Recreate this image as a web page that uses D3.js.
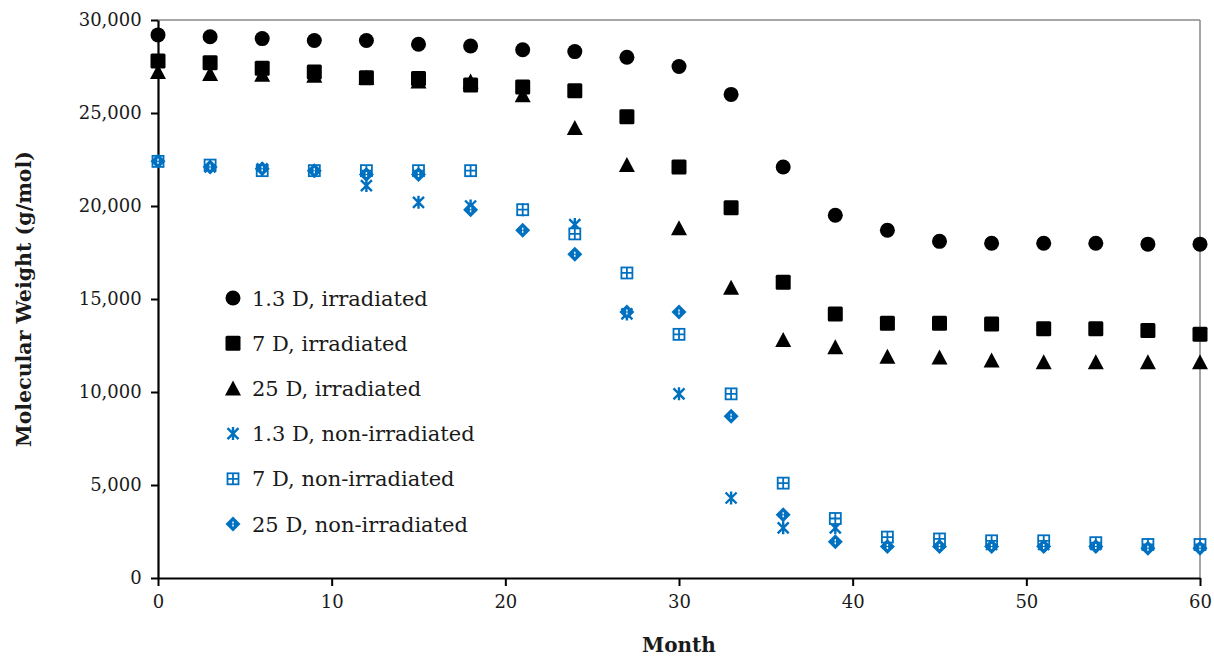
<!DOCTYPE html>
<html>
<head>
<meta charset="utf-8">
<script src="https://cdn.jsdelivr.net/npm/d3@7"></script>
<style>
  body { margin: 0; background: #fff; }
  text { font-family: "DejaVu Serif", "Liberation Serif", serif; fill: #1a1a1a; }
</style>
</head>
<body>
<div id="chart"></div>
<script>
// months sampled every 3 months
var months = [0, 3, 6, 9, 12, 15, 18, 21, 24, 27, 30, 33, 36, 39, 42, 45, 48, 51, 54, 57, 60];

var irr13 = [29200, 29100, 29000, 28900, 28900, 28700, 28600, 28400, 28300, 28000, 27500, 26000, 22100, 19500, 18700, 18100, 18000, 18000, 18000, 17950, 17950];
var irr7 = [27800, 27700, 27400, 27200, 26900, 26850, 26500, 26400, 26200, 24800, 22100, 19900, 15900, 14200, 13700, 13700, 13650, 13400, 13400, 13300, 13100];
var irr25 = [27200, 27100, 27050, 27000, 26900, 26700, 26700, 25950, 24200, 22200, 18800, 15600, 12800, 12400, 11900, 11850, 11700, 11600, 11600, 11600, 11600];
var non13 = [22400, 22100, 22000, 21900, 21100, 20200, 20000, 19800, 19000, 14200, 9900, 4300, 2700, 2700, 1900, 1900, 1800, 1800, 1800, 1800, 1800];
var non7 = [22400, 22200, 21900, 21900, 21900, 21900, 21900, 19800, 18500, 16400, 13100, 9900, 5100, 3200, 2200, 2100, 2000, 2000, 1900, 1800, 1800];
var non25 = [22400, 22100, 22000, 21900, 21700, 21700, 19800, 18700, 17400, 14300, 14300, 8700, 3400, 1950, 1700, 1700, 1700, 1700, 1700, 1600, 1600];

var seriesNames = ["1.3 D, irradiated", "7 D, irradiated", "25 D, irradiated",
                   "1.3 D, non-irradiated", "7 D, non-irradiated", "25 D, non-irradiated"];
var seriesValues = [irr13, irr7, irr25, non13, non7, non25];
var seriesMarkers = ["circle", "square", "triangle", "star", "boxplus", "diamond"];

var xTicks = [0, 10, 20, 30, 40, 50, 60];
var yTicks = [0, 5000, 10000, 15000, 20000, 25000, 30000];

var black = "#000";
var blue = "#0070c0";

var width = 1214, height = 657;
var margin = {top: 20, right: 14, bottom: 79, left: 158};

var svg = d3.select("#chart").append("svg")
    .attr("width", width)
    .attr("height", height);

var x = d3.scaleLinear().domain([0, 60]).range([margin.left, width - margin.right]);
var y = d3.scaleLinear().domain([0, 30000]).range([height - margin.bottom, margin.top]);

// plot frame (top and right in grey)
svg.append("line")
    .attr("x1", x(0)).attr("x2", x(60))
    .attr("y1", y(30000)).attr("y2", y(30000))
    .attr("stroke", "#888").attr("stroke-width", 1.5);
svg.append("line")
    .attr("x1", x(60)).attr("x2", x(60))
    .attr("y1", y(30000)).attr("y2", y(0))
    .attr("stroke", "#888").attr("stroke-width", 1.5);

// axes
var xAxis = d3.axisBottom(x).tickValues(xTicks).tickSize(8).tickSizeOuter(0);
var yAxis = d3.axisLeft(y).tickValues(yTicks).tickSize(7).tickSizeOuter(0)
    .tickFormat(d3.format(","));

var gx = svg.append("g")
    .attr("transform", "translate(0," + y(0) + ")")
    .call(xAxis);
var gy = svg.append("g")
    .attr("transform", "translate(" + x(0) + ",0)")
    .call(yAxis);

[gx, gy].forEach(function(g){
    g.select(".domain").attr("stroke", black).attr("stroke-width", 2.2);
    g.selectAll(".tick line").attr("stroke", black).attr("stroke-width", 2);
    g.selectAll(".tick text")
        .attr("font-size", 18)
        .attr("font-family", "DejaVu Serif, serif")
        .attr("fill", "#1a1a1a");
});
gx.selectAll(".tick text").attr("dy", "1.05em");
gy.selectAll(".tick text").attr("dx", "-0.35em");

// axis titles
svg.append("text")
    .attr("x", (x(0) + x(60)) / 2)
    .attr("y", 652)
    .attr("text-anchor", "middle")
    .attr("font-size", 20)
    .attr("font-weight", "bold")
    .text("Month");

svg.append("text")
    .attr("transform", "translate(31," + (y(15000)) + ") rotate(-90)")
    .attr("text-anchor", "middle")
    .attr("font-size", 20.5)
    .attr("font-weight", "bold")
    .text("Molecular Weight (g/mol)");

/**
 * Draws one marker of the given kind centred on (cx, cy).
 */
function drawMarker(g, kind, cx, cy){
    if (kind == "circle"){
        g.append("circle").attr("cx", cx).attr("cy", cy).attr("r", 7.5).attr("fill", black);
    }
    else if (kind == "square"){
        g.append("rect").attr("x", cx - 7.5).attr("y", cy - 7.5)
            .attr("width", 15).attr("height", 15).attr("rx", 1.5).attr("fill", black);
    }
    else if (kind == "triangle"){
        g.append("path")
            .attr("d", "M" + cx + "," + (cy - 8) + "L" + (cx + 8) + "," + (cy + 7) + "L" + (cx - 8) + "," + (cy + 7) + "Z")
            .attr("fill", black);
    }
    else if (kind == "star"){
        var s = 5.5;
        g.append("path")
            .attr("d", "M" + (cx - s) + "," + (cy - s) + "L" + (cx + s) + "," + (cy + s) +
                       "M" + (cx + s) + "," + (cy - s) + "L" + (cx - s) + "," + (cy + s) +
                       "M" + cx + "," + (cy - s - 1) + "L" + cx + "," + (cy + s + 1))
            .attr("stroke", blue).attr("stroke-width", 2.4).attr("fill", "none");
    }
    else if (kind == "boxplus"){
        var h = 5.5;
        g.append("rect").attr("x", cx - h).attr("y", cy - h)
            .attr("width", 2 * h).attr("height", 2 * h)
            .attr("fill", "#fff").attr("stroke", blue).attr("stroke-width", 1.8);
        g.append("path")
            .attr("d", "M" + (cx - h) + "," + cy + "L" + (cx + h) + "," + cy +
                       "M" + cx + "," + (cy - h) + "L" + cx + "," + (cy + h))
            .attr("stroke", blue).attr("stroke-width", 1.8);
    }
    else if (kind == "diamond"){
        var d = 7.5;
        g.append("path")
            .attr("d", "M" + cx + "," + (cy - d) + "L" + (cx + d) + "," + cy + "L" + cx + "," + (cy + d) + "L" + (cx - d) + "," + cy + "Z")
            .attr("fill", blue);
        g.append("path")
            .attr("d", "M" + cx + "," + (cy - 2.5) + "L" + cx + "," + (cy + 2.5))
            .attr("stroke", "#fff").attr("stroke-width", 1.4).attr("stroke-dasharray", "2,1");
    }
}

// data markers
var marks = svg.append("g").attr("id", "marks");
seriesValues.forEach(function(vals, si){
    var g = marks.append("g").attr("class", "series-" + si);
    vals.forEach(function(v, i){
        drawMarker(g, seriesMarkers[si], x(months[i]), y(v));
    });
});

// legend
var legend = svg.append("g").attr("id", "legend");
var legendX = 233, legendY0 = 298, legendStep = 45.2;
seriesNames.forEach(function(name, i){
    var ly = legendY0 + i * legendStep;
    drawMarker(legend, seriesMarkers[i], legendX, ly);
    legend.append("text")
        .attr("x", legendX + 19)
        .attr("y", ly)
        .attr("dy", "0.36em")
        .attr("font-size", 21)
        .text(name);
});
</script>
</body>
</html>
